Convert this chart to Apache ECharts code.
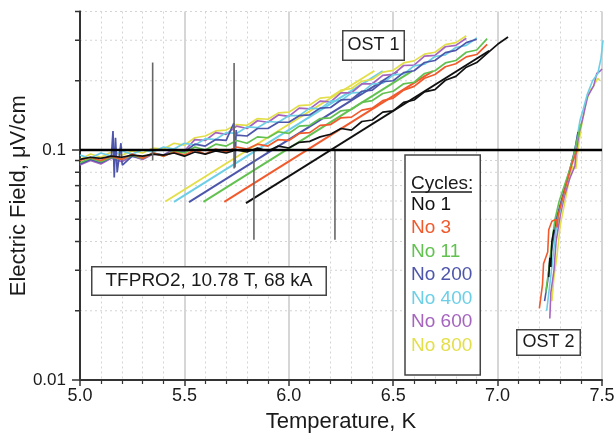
<!DOCTYPE html>
<html>
<head>
    <meta charset="utf-8">
    <script src="https://cdn.jsdelivr.net/npm/echarts@6/dist/echarts.min.js"></script>
    <style>
        html, body { margin: 0; padding: 0; background: #fff; }
        #main { width: 614px; height: 441px; }
    </style>
</head>
<body>
<div id="main"></div>
<script>
    var cycles = ['No 1', 'No 3', 'No 11', 'No 200', 'No 400', 'No 600', 'No 800'];
    var colors = ['#111111', '#f05a2c', '#62c150', '#4d56aa', '#6ccfe6', '#a565be', '#e3df4a'];

    // OST 1 traces, sampled on a common temperature grid (K)
    var temps = [5.00, 5.05, 5.10, 5.15, 5.20, 5.25, 5.30, 5.35, 5.40, 5.45, 5.50, 5.55, 5.60, 5.65,
        5.70, 5.75, 5.80, 5.85, 5.90, 5.95, 6.00, 6.05, 6.10, 6.15, 6.20, 6.25, 6.30, 6.35, 6.40, 6.45,
        6.50, 6.55, 6.60, 6.65, 6.70, 6.75, 6.80, 6.85, 6.90, 6.95, 7.00, 7.05];

    var ost1No1 = [0.091, 0.093, 0.092, 0.094, 0.093, 0.095, 0.094, 0.096, 0.095, 0.097,
        0.094, 0.098, 0.096, 0.099, 0.097, 0.100, 0.098, 0.102, 0.099, 0.104,
        0.102, 0.108, 0.109, 0.114, 0.117, 0.124, 0.122, 0.133, 0.135, 0.146,
        0.148, 0.161, 0.165, 0.179, 0.183, 0.201, 0.209, 0.229, 0.240, 0.263,
        0.288, 0.310];
    var ost1No3 = [0.090, 0.093, 0.090, 0.094, 0.091, 0.096, 0.092, 0.097, 0.094, 0.098,
        0.095, 0.100, 0.096, 0.101, 0.098, 0.103, 0.101, 0.106, 0.104, 0.111,
        0.110, 0.118, 0.119, 0.128, 0.129, 0.138, 0.139, 0.149, 0.152, 0.164,
        0.168, 0.182, 0.189, 0.205, 0.213, 0.230, 0.237, 0.254, 0.260, 0.288];
    var ost1No11 = [0.088, 0.092, 0.089, 0.093, 0.091, 0.095, 0.092, 0.097, 0.094, 0.099,
        0.097, 0.103, 0.100, 0.106, 0.104, 0.110, 0.107, 0.114, 0.113, 0.120,
        0.118, 0.127, 0.128, 0.137, 0.138, 0.148, 0.150, 0.161, 0.164, 0.176,
        0.180, 0.194, 0.197, 0.215, 0.221, 0.239, 0.245, 0.266, 0.272, 0.305];
    var ost1No200 = [0.087, 0.091, 0.088, 0.093, 0.090, 0.094, 0.092, 0.097, 0.095, 0.099,
        0.098, 0.106, 0.104, 0.111, 0.110, 0.116, 0.115, 0.124, 0.124, 0.132,
        0.132, 0.141, 0.142, 0.152, 0.153, 0.165, 0.166, 0.180, 0.182, 0.198,
        0.200, 0.217, 0.221, 0.240, 0.245, 0.265, 0.271, 0.293, 0.303];
    // narrow noise spikes of the No 200 trace, [T, E]
    var spikesNo200 = [[5.158, 0.121], [5.164, 0.076], [5.170, 0.113], [5.178, 0.080],
        [5.196, 0.107], [5.203, 0.086], [5.737, 0.131], [5.742, 0.084], [5.748, 0.122]];
    var ost1No400 = [0.095, 0.092, 0.097, 0.094, 0.099, 0.096, 0.100, 0.098, 0.103, 0.101,
        0.107, 0.105, 0.112, 0.111, 0.119, 0.118, 0.126, 0.125, 0.133, 0.132,
        0.141, 0.141, 0.152, 0.151, 0.163, 0.164, 0.177, 0.178, 0.194, 0.195,
        0.212, 0.214, 0.232, 0.236, 0.255, 0.259, 0.279, 0.285, 0.307];
    var ost1No600 = [0.086, 0.090, 0.087, 0.092, 0.089, 0.094, 0.091, 0.096, 0.095, 0.101,
        0.099, 0.111, 0.110, 0.119, 0.117, 0.127, 0.124, 0.134, 0.132, 0.142,
        0.140, 0.152, 0.151, 0.163, 0.162, 0.177, 0.177, 0.194, 0.194, 0.211,
        0.213, 0.233, 0.234, 0.256, 0.258, 0.281, 0.285, 0.306];
    var ost1No800 = [0.091, 0.096, 0.093, 0.098, 0.095, 0.099, 0.097, 0.102, 0.101, 0.107,
        0.105, 0.113, 0.115, 0.121, 0.122, 0.129, 0.128, 0.137, 0.136, 0.145,
        0.146, 0.156, 0.157, 0.168, 0.170, 0.182, 0.185, 0.199, 0.203, 0.218,
        0.222, 0.239, 0.244, 0.261, 0.266, 0.287, 0.293, 0.314];

    // OST 2 traces, [T, E]
    var ost2No1 = [[7.245, 0.028], [7.25, 0.034], [7.255, 0.031], [7.26, 0.040], [7.27, 0.045]];
    var ost2No3 = [[7.20, 0.0205], [7.215, 0.026], [7.22, 0.032], [7.24, 0.036], [7.245, 0.045],
        [7.26, 0.049], [7.28, 0.050], [7.285, 0.046], [7.29, 0.052], [7.31, 0.061], [7.335, 0.074],
        [7.355, 0.086], [7.38, 0.10]];
    var ost2No11 = [[7.23, 0.024], [7.245, 0.030], [7.26, 0.040], [7.275, 0.050], [7.295, 0.060],
        [7.32, 0.070], [7.345, 0.082], [7.365, 0.095], [7.38, 0.110], [7.40, 0.130]];
    var ost2No200 = [[7.225, 0.022], [7.24, 0.027], [7.25, 0.033], [7.265, 0.040], [7.28, 0.050],
        [7.30, 0.058], [7.325, 0.070], [7.35, 0.085], [7.37, 0.100], [7.385, 0.120]];
    var ost2No400 = [[7.235, 0.020], [7.25, 0.026], [7.265, 0.034], [7.28, 0.045], [7.30, 0.055],
        [7.32, 0.066], [7.345, 0.080], [7.365, 0.095], [7.38, 0.112], [7.395, 0.135], [7.41, 0.150],
        [7.43, 0.175], [7.455, 0.200], [7.48, 0.215], [7.495, 0.250], [7.505, 0.300]];
    var ost2No600 = [[7.25, 0.0185], [7.255, 0.024], [7.27, 0.030], [7.28, 0.040], [7.30, 0.052],
        [7.32, 0.063], [7.345, 0.075], [7.37, 0.085], [7.375, 0.095], [7.39, 0.118], [7.41, 0.140],
        [7.43, 0.170], [7.46, 0.190], [7.475, 0.215], [7.49, 0.220], [7.50, 0.225]];
    var ost2No800 = [[7.26, 0.022], [7.27, 0.028], [7.285, 0.035], [7.30, 0.047], [7.32, 0.058],
        [7.34, 0.072], [7.36, 0.085], [7.375, 0.083], [7.385, 0.100], [7.40, 0.125], [7.42, 0.155],
        [7.44, 0.180], [7.46, 0.190], [7.48, 0.205], [7.49, 0.200]];

    var ost1 = [ost1No1, ost1No3, ost1No11, ost1No200, ost1No400, ost1No600, ost1No800];
    var spikes = [[], [], [], spikesNo200, [], [], []];
    var ost2 = [ost2No1, ost2No3, ost2No11, ost2No200, ost2No400, ost2No600, ost2No800];

    // straight fits (cycle index, start and end points)
    var fitCycle = [0, 1, 2, 3, 4, 6];
    var fitT0 = [5.795, 5.691, 5.591, 5.522, 5.450, 5.409];
    var fitE0 = [0.0587, 0.0595, 0.0595, 0.0593, 0.0595, 0.0597];
    var fitT1 = [6.96, 6.69, 6.59, 6.52, 6.45, 6.41];
    var fitE1 = [0.270, 0.220, 0.220, 0.219, 0.220, 0.221];

    var criterion = 0.1;
    // vertical markers: [T, Elow, Ehigh]
    var markers = [[5.348, 0.090, 0.240], [5.738, 0.083, 0.239], [5.833, 0.0407, 0.100], [6.221, 0.0407, 0.100]];
    var yMinor = [0.02, 0.03, 0.04, 0.05, 0.06, 0.07, 0.08, 0.09, 0.2, 0.3, 0.4];

    var font = 'Liberation Sans';
    var chart = echarts.init(document.getElementById('main'));
    var series = [];

    // log minor ticks and dotted grid
    series.push({
        type: 'custom',
        silent: true,
        clip: false,
        z: 1,
        data: yMinor.map(function (v) { return [5.0, v]; }),
        renderItem: function (params, api) {
            var p0 = api.coord([5.0, api.value(1)]);
            var p1 = api.coord([7.5, api.value(1)]);
            return {
                type: 'group',
                children: [{
                    type: 'line',
                    shape: { x1: p0[0], y1: p0[1], x2: p1[0], y2: p1[1] },
                    style: { stroke: '#d4d4d4', lineWidth: 1, lineDash: [2, 3] }
                }, {
                    type: 'line',
                    shape: { x1: p0[0] - 5, y1: p0[1], x2: p0[0] + 1, y2: p0[1] },
                    style: { stroke: '#333', lineWidth: 1.5 }
                }]
            };
        }
    });

    for (var k = 0; k < fitCycle.length; k++) {
        series.push({
            type: 'line',
            silent: true,
            symbol: 'none',
            z: 3,
            lineStyle: { color: colors[fitCycle[k]], width: 2 },
            data: [[fitT0[k], fitE0[k]], [fitT1[k], fitE1[k]]]
        });
    }

    for (var i = cycles.length - 1; i >= 0; i--) {
        var pts = ost1[i].map(function (v, j) { return [temps[j], v]; });
        pts = pts.concat(spikes[i]).sort(function (a, b) { return a[0] - b[0]; });
        series.push({
            name: cycles[i], type: 'line', symbol: 'none', z: 4,
            itemStyle: { color: colors[i] },
            lineStyle: { color: colors[i], width: 1.7 },
            data: pts
        });
        series.push({
            name: cycles[i], type: 'line', symbol: 'none', z: 4,
            itemStyle: { color: colors[i] },
            lineStyle: { color: colors[i], width: 1.6 },
            data: ost2[i]
        });
    }

    series.push({
        type: 'line', silent: true, symbol: 'none', z: 5,
        lineStyle: { color: '#000', width: 2.5 },
        data: [[5.0, criterion], [7.5, criterion]]
    });

    series.push({
        type: 'custom', silent: true, z: 5,
        data: markers,
        encode: { x: 0, y: [1, 2] },
        renderItem: function (params, api) {
            var a = api.coord([api.value(0), api.value(1)]);
            var b = api.coord([api.value(0), api.value(2)]);
            return {
                type: 'line',
                shape: { x1: a[0], y1: a[1], x2: b[0], y2: b[1] },
                style: { stroke: '#666', lineWidth: 1.6 }
            };
        }
    });

    var boxStyle = function (text, size, pad) {
        return {
            text: text, font: size + 'px "' + font + '"', fill: '#1a1a1a',
            backgroundColor: '#fff', borderColor: '#444', borderWidth: 1.5, padding: pad
        };
    };

    var option = {
        animation: false,
        backgroundColor: '#fff',
        grid: { left: 80, right: 12, top: 11.5, bottom: 61, containLabel: false, outerBoundsMode: 'none' },
        legend: {
            orient: 'vertical', left: 405, top: 155,
            padding: [40, 8, 20, 1], itemGap: 4.5, itemWidth: 0, itemHeight: 14,
            icon: 'none', selectedMode: false,
            borderColor: '#444', borderWidth: 1.5, backgroundColor: '#fff',
            textStyle: { fontSize: 19, fontFamily: font },
            data: cycles.map(function (c, i) {
                return { name: c, textStyle: { color: colors[i] } };
            })
        },
        xAxis: {
            type: 'value', min: 5.0, max: 7.5, interval: 0.5,
            name: 'Temperature, K', nameLocation: 'middle', nameGap: 31,
            nameTextStyle: { fontSize: 22, fontFamily: font, color: '#1a1a1a' },
            axisLine: { onZero: false, lineStyle: { color: '#333', width: 2 } },
            axisTick: { length: 6, lineStyle: { color: '#333', width: 1.5 } },
            minorTick: { show: true, splitNumber: 5, length: 4, lineStyle: { color: '#333', width: 1.2 } },
            axisLabel: {
                fontSize: 18, fontFamily: font, color: '#1a1a1a', margin: 7,
                formatter: function (v) { return v.toFixed(1); }
            },
            splitLine: { show: true, lineStyle: { color: '#c8c8c8', width: 1.5 } },
            minorSplitLine: { show: true, lineStyle: { color: '#d4d4d4', width: 1, type: [2, 3] } }
        },
        yAxis: {
            type: 'log', logBase: 10, min: 0.01, max: 0.4,
            name: 'Electric Field, \u03bcV/cm', nameLocation: 'middle', nameGap: 50, nameRotate: 90,
            nameMoveOverlap: false,
            nameTextStyle: { fontSize: 22, fontFamily: font, color: '#1a1a1a' },
            axisLine: { lineStyle: { color: '#333', width: 2 } },
            axisTick: { length: 8, lineStyle: { color: '#333', width: 1.5 } },
            axisLabel: {
                fontSize: 17, fontFamily: font, color: '#1a1a1a', margin: 14,
                showMaxLabel: false
            },
            splitLine: { show: true, lineStyle: { color: '#d4d4d4', width: 1, type: [2, 3] } }
        },
        graphic: [
            { type: 'text', left: 342, top: 30, z: 100, style: boxStyle('OST 1', 18, [5, 4, 5, 4]) },
            { type: 'text', left: 91, top: 266, z: 100, style: boxStyle('TFPRO2, 10.78 T, 68 kA', 19, [4, 13, 4, 13]) },
            { type: 'text', left: 516, top: 329, z: 100, style: boxStyle('OST 2', 18, [3, 5, 3, 5]) },
            {
                type: 'text', left: 411, top: 174, z: 100,
                style: { text: 'Cycles:', font: '19px "' + font + '"', fill: '#1a1a1a' }
            },
            {
                type: 'line', z: 100,
                shape: { x1: 411, y1: 192, x2: 472, y2: 192 },
                style: { stroke: '#1a1a1a', lineWidth: 1.3 }
            }
        ],
        series: series
    };

    chart.setOption(option);
</script>
</body>
</html>
